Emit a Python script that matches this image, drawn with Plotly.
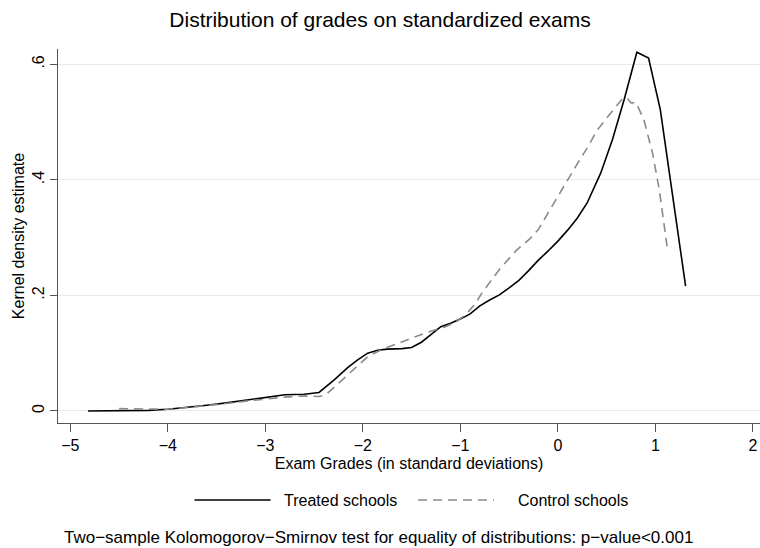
import plotly.graph_objects as go

# Kernel density estimates of standardized exam grades
treated_x = [-4.82, -4.5, -4.2, -4.0, -3.8, -3.6, -3.4, -3.2, -3.0, -2.8, -2.6, -2.45,
             -2.3, -2.15, -2.05, -1.95, -1.85, -1.75, -1.6, -1.5, -1.4, -1.3, -1.2, -1.1,
             -1.0, -0.9, -0.8, -0.7, -0.6, -0.5, -0.4, -0.3, -0.2, -0.1, 0.0, 0.1, 0.2,
             0.3, 0.44, 0.56, 0.68, 0.81, 0.93, 1.05, 1.17, 1.31]
treated_y = [0.0, 0.0, 0.001, 0.003, 0.006, 0.010, 0.014, 0.019, 0.024, 0.028, 0.029, 0.032,
             0.053, 0.076, 0.089, 0.100, 0.105, 0.107, 0.108, 0.110, 0.119, 0.132, 0.146, 0.152,
             0.159, 0.168, 0.182, 0.192, 0.201, 0.213, 0.226, 0.243, 0.261, 0.277, 0.294, 0.313,
             0.334, 0.360, 0.412, 0.470, 0.539, 0.621, 0.611, 0.522, 0.383, 0.216]

control_x = [-4.5, -4.3, -4.1, -4.0, -3.8, -3.6, -3.4, -3.2, -3.0, -2.8, -2.6, -2.45, -2.38,
             -2.2, -2.05, -1.95, -1.8, -1.63, -1.5, -1.36, -1.15, -1.05, -0.95, -0.85, -0.78,
             -0.6, -0.42, -0.3, -0.2, -0.1, 0.0, 0.1, 0.2, 0.3, 0.4, 0.5, 0.58, 0.66, 0.71,
             0.75, 0.8, 0.88, 0.97, 1.04, 1.12]
control_y = [0.004, 0.004, 0.003, 0.003, 0.006, 0.009, 0.013, 0.017, 0.021, 0.024, 0.026, 0.025,
             0.028, 0.056, 0.080, 0.094, 0.107, 0.117, 0.126, 0.135, 0.146, 0.154, 0.166, 0.185,
             0.204, 0.245, 0.279, 0.296, 0.314, 0.343, 0.372, 0.400, 0.428, 0.455, 0.485, 0.507,
             0.523, 0.540, 0.542, 0.533, 0.534, 0.505, 0.447, 0.383, 0.285]

x_ticks = [-5, -4, -3, -2, -1, 0, 1, 2]
x_tick_labels = ["\u22125", "\u22124", "\u22123", "\u22122", "\u22121", "0", "1", "2"]
y_ticks = [0, 0.2, 0.4, 0.6]
y_tick_labels = ["0", ".2", ".4", ".6"]

series_names = ["Treated schools", "Control schools"]
note_text = ("Two\u2212sample Kolomogorov\u2212Smirnov test for equality of distributions: "
             "p\u2212value<0.001")

FONT = "Liberation Sans, Arial, Helvetica, sans-serif"
W, H = 760, 548
M_L, M_R, M_T, M_B = 58, 0, 49, 125
PW, PH = W - M_L - M_R, H - M_T - M_B


def px_x(px):
    return (px - M_L) / PW


def px_y(py):
    return (H - M_B - py) / PH


BLACK = "#000000"
GRAY = "#8a8a8a"
DASH = "9px,6px"

fig = go.Figure()
fig.add_trace(go.Scatter(x=treated_x, y=treated_y, mode="lines", name=series_names[0],
                         line=dict(color=BLACK, width=1.6), showlegend=False))
fig.add_trace(go.Scatter(x=control_x, y=control_y, mode="lines", name=series_names[1],
                         line=dict(color=GRAY, width=1.6, dash=DASH), showlegend=False))

# Legend row drawn below the axis title
shapes = [
    dict(type="line", xref="paper", yref="paper", x0=px_x(194.5), x1=px_x(270.6),
         y0=px_y(500), y1=px_y(500), line=dict(color=BLACK, width=1.6)),
    dict(type="line", xref="paper", yref="paper", x0=px_x(418), x1=px_x(494),
         y0=px_y(500), y1=px_y(500), line=dict(color=GRAY, width=1.6, dash=DASH)),
]
annotations = [
    dict(text=series_names[0], xref="paper", yref="paper", x=px_x(282), y=px_y(500),
         xanchor="left", yanchor="middle", showarrow=False,
         font=dict(family=FONT, size=16, color="#000")),
    dict(text=series_names[1], xref="paper", yref="paper", x=px_x(516), y=px_y(500),
         xanchor="left", yanchor="middle", showarrow=False,
         font=dict(family=FONT, size=16, color="#000")),
    dict(text=note_text, xref="paper", yref="paper", x=px_x(62), y=px_y(537),
         xanchor="left", yanchor="middle", showarrow=False,
         font=dict(family=FONT, size=17, color="#000")),
]

fig.update_layout(
    width=W, height=H,
    margin=dict(l=M_L, r=M_R, t=M_T, b=M_B, pad=0),
    paper_bgcolor="white", plot_bgcolor="white",
    font=dict(family=FONT, size=16, color="#000"),
    title=dict(text="Distribution of grades on standardized exams", x=0.5, xref="container",
               xanchor="center", y=1 - 20 / H, yref="container", yanchor="middle",
               font=dict(family=FONT, size=21, color="#000")),
    shapes=shapes,
    annotations=annotations,
    showlegend=False,
)

fig.update_xaxes(
    range=[-5.127, 2.073], tickmode="array", tickvals=x_ticks, ticktext=x_tick_labels,
    showgrid=False, zeroline=False, showline=True, linecolor="#555", linewidth=1.2,
    ticks="outside", ticklen=8, tickwidth=1.2, tickcolor="#555",
    tickfont=dict(family=FONT, size=16, color="#000"),
    title=dict(text="Exam Grades (in standard deviations)", standoff=4,
               font=dict(family=FONT, size=16, color="#000")),
    automargin=False,
)
fig.update_yaxes(
    range=[-0.0208, 0.6265], tickmode="array", tickvals=y_ticks, ticktext=y_tick_labels,
    tickangle=-90, showgrid=True, gridcolor="#e4ecef", gridwidth=1,
    zeroline=False, showline=True, linecolor="#555", linewidth=1.2,
    ticks="outside", ticklen=7, tickwidth=1.2, tickcolor="#555",
    tickfont=dict(family=FONT, size=16, color="#000"),
    title=dict(text="Kernel density estimate", standoff=0,
               font=dict(family=FONT, size=16, color="#000")),
    automargin=False,
)

fig.write_html("out.html")
